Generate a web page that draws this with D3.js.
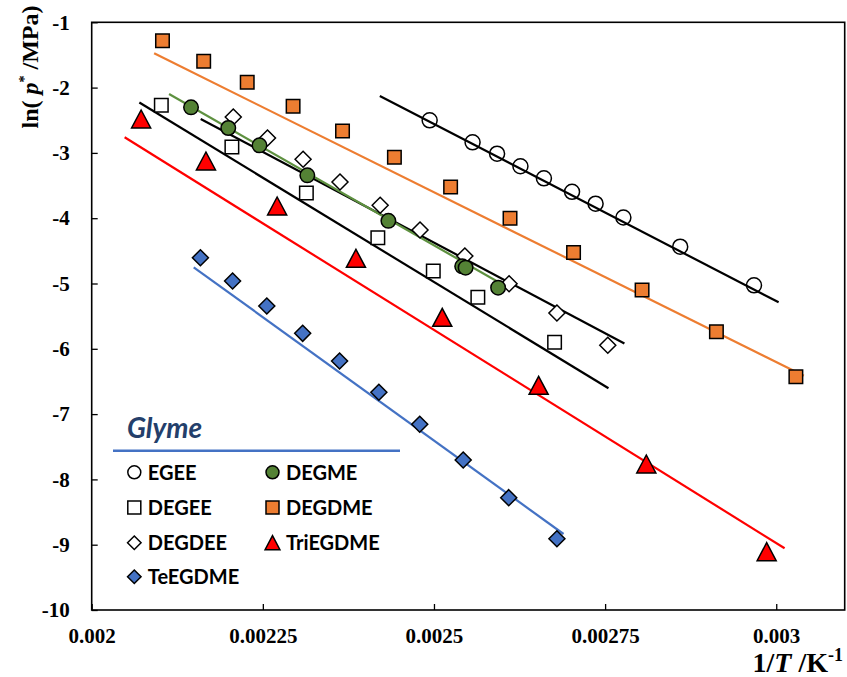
<!DOCTYPE html>
<html>
<head>
<meta charset="utf-8">
<script src="https://cdn.jsdelivr.net/npm/d3@7"></script>
<style>
  html, body { margin: 0; padding: 0; background: #fff; }
  svg { display: block; }
</style>
</head>
<body>
<svg id="chart" width="847" height="677"></svg>
<script>
// ---- axis ticks ----
const xTickValues = [0.002, 0.00225, 0.0025, 0.00275, 0.003];
const xTickLabels = ["0.002", "0.00225", "0.0025", "0.00275", "0.003"];
const yTickValues = [-1, -2, -3, -4, -5, -6, -7, -8, -9, -10];

// ---- measured points: 1/T (K^-1) and ln(p*/MPa) ----
const egeeX = [0.0024937, 0.0025564, 0.0025922, 0.0026263, 0.0026606, 0.0027017, 0.0027361, 0.0027767, 0.0028597, 0.0029675];
const egeeY = [-2.501, -2.838, -3.012, -3.205, -3.389, -3.596, -3.778, -3.989, -4.436, -5.028];

const degdmeX = [0.0021034, 0.0021636, 0.0022272, 0.0022942, 0.0023664, 0.0024422, 0.0025243, 0.0026111, 0.0027039, 0.002804, 0.0029126, 0.0030287];
const degdmeY = [-1.282, -1.597, -1.919, -2.286, -2.665, -3.067, -3.522, -4.002, -4.525, -5.100, -5.738, -6.427];

const degmeX = [0.0021451, 0.0021995, 0.0022451, 0.002315, 0.0024334, 0.0025412, 0.0025462, 0.0025937];
const degmeY = [-2.302, -2.619, -2.884, -3.343, -4.040, -4.737, -4.758, -5.064];

const degdeeX = [0.0022068, 0.0022568, 0.0023088, 0.0023627, 0.0024214, 0.0024796, 0.0025451, 0.0026097, 0.0026796, 0.0027539];
const degdeeY = [-2.450, -2.772, -3.098, -3.446, -3.802, -4.181, -4.579, -5.003, -5.452, -5.946];

const degeeX = [0.0021017, 0.0022048, 0.0023136, 0.002418, 0.002499, 0.0025641, 0.0026762];
const degeeY = [-2.270, -2.910, -3.614, -4.299, -4.809, -5.211, -5.900];

const triegdmeX = [0.0020722, 0.0021669, 0.0022709, 0.002386, 0.0025121, 0.0026529, 0.0028102, 0.002986];
const triegdmeY = [-2.481, -3.124, -3.813, -4.614, -5.518, -6.559, -7.764, -9.107];

const teegdmeX = [0.0021588, 0.0022058, 0.0022558, 0.0023082, 0.0023621, 0.0024195, 0.0024792, 0.0025427, 0.0026092, 0.0026796];
const teegdmeY = [-4.605, -4.962, -5.345, -5.763, -6.187, -6.666, -7.156, -7.703, -8.280, -8.908];

// ---- linear fit lines (end points) ----
const egeeFitX = [0.0024209, 0.0030035];     const egeeFitY = [-2.129, -5.288];
const degdmeFitX = [0.0020912, 0.0030403];   const degdmeFitY = [-1.475, -6.412];
const degmeFitX = [0.002113, 0.0026015];     const degmeFitY = [-2.098, -5.023];
const degdeeFitX = [0.0021592, 0.0027782];   const degdeeFitY = [-2.481, -5.919];
const degeeFitX = [0.0020696, 0.0027549];    const degeeFitY = [-2.228, -6.605];
const triegdmeFitX = [0.0020481, 0.0030122]; const triegdmeFitY = [-2.761, -9.055];
const teegdmeFitX = [0.002149, 0.0026893];   const teegdmeFitY = [-4.752, -8.836];

// ---- legend ----
const legendTitle = "Glyme";
const seriesNames = ["EGEE", "DEGME", "DEGEE", "DEGDME", "DEGDEE", "TriEGDME", "TeEGDME"];

// ---- layout ----
const svg = d3.select("#chart");
const plot = { left: 91.7, top: 22.3, right: 844.7, bottom: 610 };

const x = d3.scaleLinear().domain([0.002, 0.0031]).range([plot.left, plot.right]);
const y = d3.scaleLinear().domain([-10, -1]).range([plot.bottom, plot.top]);

// custom symbol shapes
const triangleUp = {
  draw(ctx, size) {
    const h = Math.sqrt(size);
    const w = h * 0.53;
    ctx.moveTo(0, -h / 2);
    ctx.lineTo(w, h / 2);
    ctx.lineTo(-w, h / 2);
    ctx.closePath();
  }
};
const diamond = {
  draw(ctx, size) {
    const r = Math.sqrt(size) / 2;
    ctx.moveTo(0, -r);
    ctx.lineTo(r, 0);
    ctx.lineTo(0, r);
    ctx.lineTo(-r, 0);
    ctx.closePath();
  }
};
const square = {
  draw(ctx, size) {
    const r = Math.sqrt(size) / 2;
    ctx.rect(-r, -r, 2 * r, 2 * r);
  }
};
const circle = {
  draw(ctx, size) {
    const r = Math.sqrt(size) / 2;
    ctx.moveTo(r, 0);
    ctx.arc(0, 0, r, 0, 2 * Math.PI);
  }
};

const series = [
  { name: "EGEE", xs: egeeX, ys: egeeY, fx: egeeFitX, fy: egeeFitY, shape: circle, size: 15, fill: "none", line: "#000000" },
  { name: "DEGDME", xs: degdmeX, ys: degdmeY, fx: degdmeFitX, fy: degdmeFitY, shape: square, size: 13.5, fill: "#ED7D31", line: "#ED7D31" },
  { name: "DEGEE", xs: degeeX, ys: degeeY, fx: degeeFitX, fy: degeeFitY, shape: square, size: 13.5, fill: "#ffffff", line: "#000000" },
  { name: "DEGDEE", xs: degdeeX, ys: degdeeY, fx: degdeeFitX, fy: degdeeFitY, shape: diamond, size: 16, fill: "#ffffff", line: "#000000" },
  { name: "DEGME", xs: degmeX, ys: degmeY, fx: degmeFitX, fy: degmeFitY, shape: circle, size: 14.5, fill: "#548235", line: "#5E9140" },
  { name: "TriEGDME", xs: triegdmeX, ys: triegdmeY, fx: triegdmeFitX, fy: triegdmeFitY, shape: triangleUp, size: 18, fill: "#FF0000", line: "#FF0000" },
  { name: "TeEGDME", xs: teegdmeX, ys: teegdmeY, fx: teegdmeFitX, fy: teegdmeFitY, shape: diamond, size: 16, fill: "#4472C4", line: "#4472C4" }
];

// ---- axes ----
const serif = "'Liberation Serif', 'Times New Roman', serif";

const yAxis = d3.axisLeft(y).tickValues(yTickValues).tickSizeInner(-6).tickSizeOuter(0).tickPadding(22)
  .tickFormat(d => String(d));
const xAxis = d3.axisBottom(x).tickValues(xTickValues).tickSizeInner(-6).tickSizeOuter(0).tickPadding(18)
  .tickFormat((d, i) => xTickLabels[i]);

const gy = svg.append("g").attr("transform", `translate(${plot.left},0)`).call(yAxis);
const gx = svg.append("g").attr("transform", `translate(0,${plot.bottom})`).call(xAxis);
[gx, gy].forEach(g => {
  g.select(".domain").remove();
  g.selectAll(".tick line").attr("stroke", "#000").attr("stroke-width", 1.3);
  g.selectAll(".tick text")
    .attr("fill", "#000")
    .style("font-family", serif)
    .style("font-weight", "bold")
    .style("font-size", "21px");
});

// plot frame
svg.append("rect")
  .attr("x", plot.left).attr("y", plot.top)
  .attr("width", plot.right - plot.left).attr("height", plot.bottom - plot.top)
  .attr("fill", "none").attr("stroke", "#000").attr("stroke-width", 1.6);

// axis titles
const yTitle = svg.append("text")
  .attr("transform", "translate(38,67) rotate(-90)")
  .attr("text-anchor", "middle")
  .style("font-family", serif).style("font-weight", "bold").style("font-size", "24px")
  .attr("fill", "#000");
yTitle.append("tspan").text("ln( ");
yTitle.append("tspan").style("font-style", "italic").text("p");
yTitle.append("tspan").attr("dy", -9).style("font-size", "14px").text("*");
yTitle.append("tspan").attr("dy", 9).text(" /MPa)");

const xTitle = svg.append("text")
  .attr("x", 843).attr("y", 672)
  .attr("text-anchor", "end")
  .style("font-family", serif).style("font-weight", "bold").style("font-size", "28px")
  .attr("fill", "#000");
xTitle.append("tspan").text("1/");
xTitle.append("tspan").style("font-style", "italic").text("T");
xTitle.append("tspan").text(" /K");
xTitle.append("tspan").attr("dy", -11).style("font-size", "18px").text("-1");

// ---- fit lines ----
const lineGen = d3.line().x(d => x(d[0])).y(d => y(d[1]));
svg.append("g").selectAll("path")
  .data(series)
  .join("path")
  .attr("d", s => lineGen(d3.zip(s.fx, s.fy)))
  .attr("fill", "none")
  .attr("stroke", s => s.line)
  .attr("stroke-width", 2.2);

// ---- markers ----
const sym = (shape, size) => d3.symbol().type(shape).size(size * size)();
series.forEach(s => {
  svg.append("g").selectAll("path")
    .data(d3.zip(s.xs, s.ys))
    .join("path")
    .attr("transform", d => `translate(${x(d[0])},${y(d[1])})`)
    .attr("d", sym(s.shape, s.size))
    .attr("fill", s.fill)
    .attr("stroke", "#000")
    .attr("stroke-width", 1.5);
});

// ---- legend ----
const sans = "Lato, 'Open Sans', sans-serif";
const legend = svg.append("g");

legend.append("text")
  .attr("x", 127).attr("y", 438)
  .style("font-family", sans).style("font-weight", "bold").style("font-style", "italic")
  .style("font-size", "28px").attr("fill", "#243F6B")
  .text(legendTitle);

const defs = svg.append("defs");
defs.append("filter").attr("id", "soft").attr("x", "-5%").attr("y", "-200%").attr("width", "110%").attr("height", "500%")
  .append("feGaussianBlur").attr("stdDeviation", 1.5);
legend.append("line")
  .attr("x1", 114).attr("x2", 402).attr("y1", 454).attr("y2", 454)
  .attr("stroke", "#9a9a9a").attr("stroke-width", 2.5).attr("filter", "url(#soft)");
legend.append("line")
  .attr("x1", 113).attr("x2", 400).attr("y1", 450.7).attr("y2", 450.7)
  .attr("stroke", "#4472C4").attr("stroke-width", 2.5);

const legendCols = [134.3, 272.5];
const legendRows = [472.3, 507.5, 542.7, 576.7];
const legendSize = { circle: 13, square: 13, diamond: 13.5, triangle: 14 };
seriesNames.forEach((name, i) => {
  const s = series.find(d => d.name === name);
  const cx = legendCols[i % 2];
  const cy = legendRows[Math.floor(i / 2)];
  const ls = s.shape === circle ? legendSize.circle : s.shape === square ? legendSize.square :
             s.shape === diamond ? legendSize.diamond : legendSize.triangle;
  legend.append("path")
    .attr("transform", `translate(${cx},${cy})`)
    .attr("d", sym(s.shape, ls))
    .attr("fill", s.fill === "none" ? "#ffffff" : s.fill)
    .attr("stroke", "#000").attr("stroke-width", 1.5);
  legend.append("text")
    .attr("x", cx + 13.5).attr("y", cy + 7.5)
    .style("font-family", sans).style("font-weight", "bold").style("font-size", "20px")
    .attr("fill", "#000")
    .text(name);
});
</script>
</body>
</html>
